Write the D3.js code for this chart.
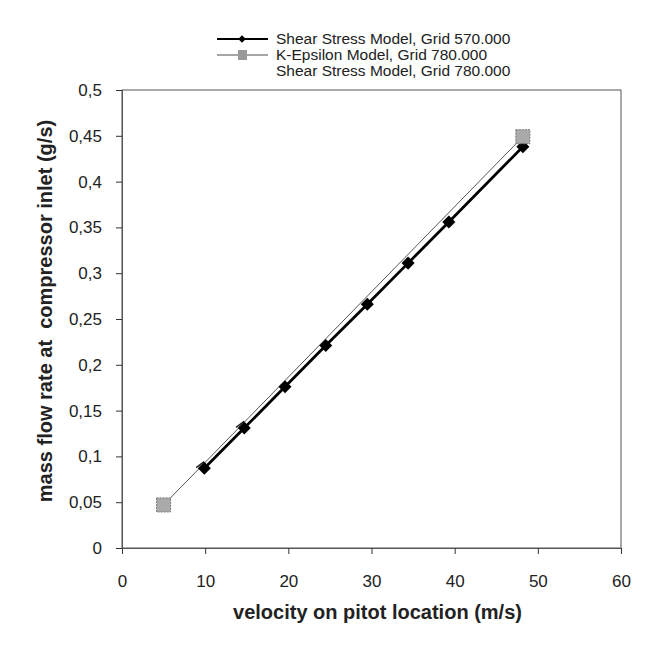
<!DOCTYPE html>
<html>
<head>
<meta charset="utf-8">
<script src="https://cdn.jsdelivr.net/npm/d3@7"></script>
<style>
  body { margin: 0; background: #fff; }
  svg text { font-family: "Liberation Sans", Arial, sans-serif; fill: #222; }
</style>
</head>
<body>
<div id="chart"></div>
<script>
// velocity (m/s) vs mass flow rate (g/s)
const sst570X = [9.9, 14.7, 19.6, 24.5, 29.5, 34.4, 39.3, 48.2];
const sst570Y = [0.087, 0.131, 0.176, 0.221, 0.266, 0.311, 0.356, 0.438];
const keX = [5, 48.2];
const keY = [0.047, 0.449];
const sst780X = [9.4, 14.2];
const sst780Y = [0.091, 0.135];
const seriesNames = ["Shear Stress Model, Grid 570.000", "K-Epsilon Model, Grid 780.000", "Shear Stress Model, Grid 780.000"];
const xTicks = [0, 10, 20, 30, 40, 50, 60];
const yTicks = [0, 0.05, 0.1, 0.15, 0.2, 0.25, 0.3, 0.35, 0.4, 0.45, 0.5];

const dimension = { width: 664, height: 658 };
const margin = { top: 90, right: 43, bottom: 110, left: 122 };
const width = dimension.width - margin.left - margin.right;
const height = dimension.height - margin.top - margin.bottom;

const svg = d3.select("#chart").append("svg")
    .attr("width", dimension.width)
    .attr("height", dimension.height);

const g = svg.append("g")
    .attr("transform", `translate(${margin.left},${margin.top})`);

const x = d3.scaleLinear().domain([0, 60]).range([0, width]);
const y = d3.scaleLinear().domain([0, 0.5]).range([height, 0]);
const fmt = d => String(d).replace(".", ",");

// frame
g.append("rect")
    .attr("width", width).attr("height", height)
    .attr("fill", "none").attr("stroke", "#555").attr("stroke-width", 1);

const xAxis = g.append("g")
    .attr("transform", `translate(0,${height})`)
    .call(d3.axisBottom(x).tickValues(xTicks).tickSize(6).tickPadding(21).tickFormat(fmt));
const yAxis = g.append("g")
    .call(d3.axisLeft(y).tickValues(yTicks).tickSize(6).tickPadding(14).tickFormat(fmt));

[xAxis, yAxis].forEach(a => {
    a.select(".domain").attr("stroke", "#555");
    a.selectAll(".tick line").attr("stroke", "#333");
    a.selectAll(".tick text").style("font-size", "17px").attr("fill", "#333");
});

// axis titles
g.append("text")
    .attr("x", width / 2 + 6).attr("y", height + 71)
    .attr("text-anchor", "middle")
    .style("font-size", "20px").style("font-weight", "bold")
    .text("velocity on pitot location (m/s)");

g.append("text")
    .attr("transform", `translate(${-70},${height / 2 - 8}) rotate(-90)`)
    .attr("text-anchor", "middle")
    .style("font-size", "20px").style("font-weight", "bold")
    .text("mass flow rate at\u00a0 compressor inlet (g/s)");

const line = d3.line().x(d => x(d[0])).y(d => y(d[1]));
const sst570 = sst570X.map((v, i) => [v, sst570Y[i]]);
const ke = keX.map((v, i) => [v, keY[i]]);
const sst780 = sst780X.map((v, i) => [v, sst780Y[i]]);

// K-Epsilon: thin grey line with hatched squares
g.append("path").datum(ke)
    .attr("d", line).attr("fill", "none")
    .attr("stroke", "#555").attr("stroke-width", 1);

// Shear stress 570: thick black with diamonds
g.append("path").datum(sst570)
    .attr("d", line).attr("fill", "none")
    .attr("stroke", "#000").attr("stroke-width", 2.8);

const diamond = d3.symbol().type(d3.symbolSquare).size(85);
g.selectAll(".sst570").data(sst570).enter().append("path")
    .attr("class", "sst570")
    .attr("d", diamond)
    .attr("transform", d => `translate(${x(d[0])},${y(d[1])}) rotate(45)`)
    .attr("fill", "#000");

g.selectAll(".ke").data(ke).enter().append("rect")
    .attr("class", "ke")
    .attr("x", d => x(d[0]) - 7).attr("y", d => y(d[1]) - 7)
    .attr("width", 14).attr("height", 14)
    .attr("fill", "#aaa").attr("stroke", "#777").attr("stroke-dasharray", "2,1");

// Shear stress 780: only faint dash marks survive
g.selectAll(".sst780").data(sst780).enter().append("line")
    .attr("class", "sst780")
    .attr("x1", d => x(d[0]) - 4).attr("x2", d => x(d[0]) + 4)
    .attr("y1", d => y(d[1]) + 3).attr("y2", d => y(d[1]) - 3)
    .attr("stroke", "#222").attr("stroke-width", 1.5);

// legend
const legend = svg.append("g").attr("transform", "translate(217,39)");
const items = legend.selectAll(".item").data(seriesNames).enter().append("g")
    .attr("transform", (d, i) => `translate(0,${i * 16})`);

items.filter((d, i) => i < 2).append("line")
    .attr("x1", 0).attr("x2", 51)
    .attr("stroke", (d, i) => i === 0 ? "#000" : "#888")
    .attr("stroke-width", (d, i) => i === 0 ? 2 : 1.5);
items.filter((d, i) => i === 0).append("path")
    .attr("d", d3.symbol().type(d3.symbolSquare).size(30))
    .attr("transform", "translate(25,0) rotate(45)").attr("fill", "#000");
items.filter((d, i) => i === 1).append("rect")
    .attr("x", 21).attr("y", -5).attr("width", 9).attr("height", 10)
    .attr("fill", "#999");

items.append("text")
    .attr("x", 59).attr("dy", "0.35em")
    .style("font-size", "15.5px").attr("fill", "#222")
    .text(d => d);
</script>
</body>
</html>
